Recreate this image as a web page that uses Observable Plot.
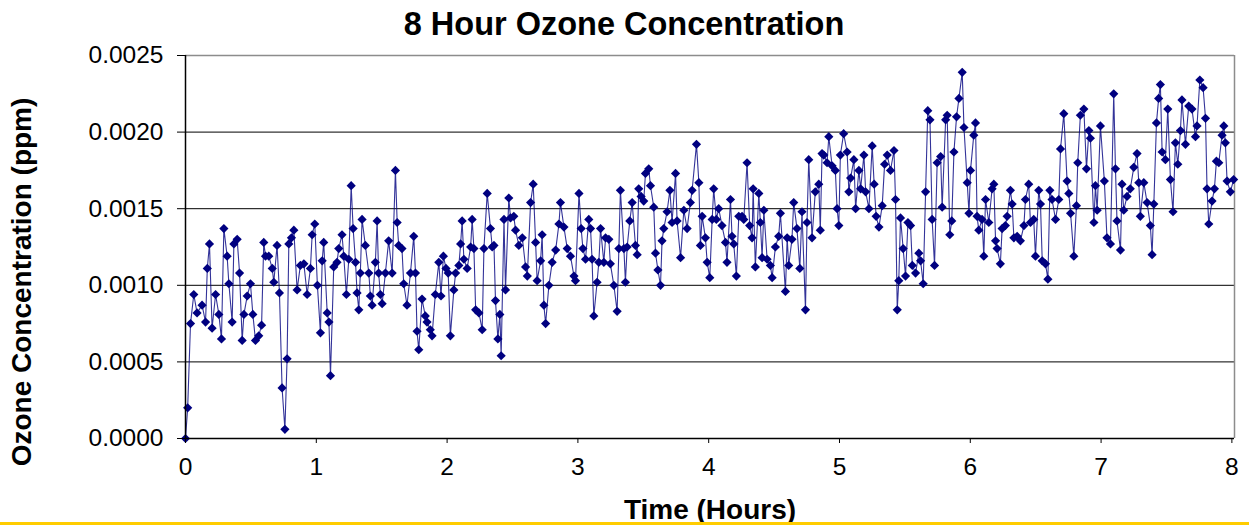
<!DOCTYPE html>
<html><head><meta charset="utf-8">
<script src="https://cdn.jsdelivr.net/npm/d3@7"></script>
<script src="https://cdn.jsdelivr.net/npm/@observablehq/plot@0.6"></script>
<style>
html,body{margin:0;padding:0;background:#fff;overflow:hidden;}
#wrap{position:relative;width:1249px;height:527px;}
#bar{position:absolute;left:0;top:522px;width:1249px;height:3px;background:#FFCC00;}
</style></head><body><div id="wrap"></div>
<script>
const titleText = "8 Hour Ozone Concentration";
const xTitle = "Time (Hours)";
const yTitle = "Ozone Concentration (ppm)";
const xTicks = [0, 1, 2, 3, 4, 5, 6, 7, 8];
const yTicks = [0, 0.0005, 0.0010, 0.0015, 0.0020, 0.0025];
const gridValues = [0.0005, 0.0010, 0.0015, 0.0020];

// elapsed time of each reading, in minutes
const timeMinutes = [
0,1,2.3,3.8,5.3,7.6,9.2,10.0,11.0,12.2,13.8,15.3,16.5,17.6,19.1,19.9,21.4,22.2,23.7,24.8,26.0,26.8,28.3,29.8,30.9,32.1,33.6,34.9,35.9,36.7,38.2,39.8,40.5,42.0,43.1,44.3,45.6,46.6,47.4,48.6,49.7,51.2,52.7,54.3,55.8,57.3,58.1,59.3,
60.5,61.9,62.7,63.4,65.0,65.8,66.5,68.0,69.5,70.3,71.8,72.6,73.8,74.9,76.0,76.9,78.0,78.7,79.5,80.2,81.0,82.5,84.1,84.8,85.6,87.1,87.9,88.6,89.4,90.2,91.7,93.2,94.8,96.3,97.1,97.8,99.3,100.1,101.6,103.2,104.7,105.5,106.2,107.0,108.5,110.0,110.8,112.3,113.1,114.6,116.2,117.2,118.3,119.5,
120.5,121.5,123.1,123.9,125.4,126.2,126.9,127.7,129.2,130.8,131.5,132.3,133.1,134.6,136.1,136.9,138.4,139.9,140.7,141.5,142.2,143.3,144.2,144.8,146.1,146.8,148.3,149.1,150.6,151.4,152.9,154.5,156.0,156.8,158.3,159.5,160.6,161.3,162.9,163.6,164.4,165.2,166.7,168.2,169.8,171.3,172.0,173.6,175.1,176.6,178.2,178.9,180.5,
181.5,182.3,183.5,185.0,185.8,186.5,187.3,188.8,189.6,190.4,191.9,192.7,194.2,194.9,196.5,198.0,198.8,199.5,201.1,201.8,202.6,203.8,204.9,206.4,207.2,207.9,209.0,210.2,211.0,212.5,213.3,214.8,215.6,216.7,217.9,218.6,219.4,220.9,222.2,223.2,224.8,225.5,227.1,228.6,230.1,231.6,232.4,234.4,235.5,236.2,237.0,238.5,239.3,240.5,
241.6,242.3,243.5,244.6,246.1,247.7,248.4,250.0,250.7,251.5,252.7,253.8,255.3,256.1,257.6,258.8,259.9,260.4,261.4,263.0,263.7,264.5,265.3,266.8,268.3,269.1,270.6,272.1,272.9,275.2,276.0,276.7,278.2,279.0,280.5,281.8,282.8,284.4,285.1,285.9,287.4,288.9,290.5,291.2,292.0,292.8,294.3,295.1,296.6,298.1,298.9,299.7,300.4,301.9,
303.5,304.3,305.1,306.6,307.4,308.9,309.7,311.2,312.0,313.5,315.0,315.9,316.8,318.1,319.6,320.7,321.9,323.4,325.0,325.7,326.5,327.2,328.0,329.2,330.3,331.4,332.6,333.4,334.9,336.4,337.2,338.4,339.5,340.5,341.5,342.5,343.6,344.8,346.4,347.1,348.7,349.4,350.6,351.5,352.5,353.7,354.8,356.3,357.1,358.6,359.4,360.1,361.6,362.4,
363.1,363.9,365.4,366.2,367.0,368.5,370.0,370.8,371.6,372.3,373.8,374.6,376.1,376.9,378.4,379.2,380.0,381.5,383.0,384.6,385.3,386.8,387.6,389.1,389.9,391.4,392.2,393.0,394.5,395.6,396.5,397.5,399.1,400.6,401.4,402.9,404.4,405.2,406.0,407.5,408.7,409.3,410.5,412.1,413.3,414.4,415.1,416.7,417.4,418.2,419.7,
421.5,422.7,424.3,425.8,426.6,427.3,428.9,429.6,430.4,431.9,433.4,435.0,436.5,437.3,438.0,439.6,441.1,442.6,443.4,444.2,445.4,446.4,447.2,448.0,449.5,450.6,451.8,453.0,454.1,455.2,456.4,457.1,458.7,460.2,461.7,463.3,464.0,465.3,466.8,467.9,468.6,469.4,470.9,472.0,472.9,474.0,475.5,476.3,477.0,477.8,479.3,480.8
];

// ozone concentration of each reading, ppm
const ozonePpm = [
0.00000,0.00020,0.00075,0.00094,0.00082,0.00087,0.00076,0.00111,0.00127,0.00072,0.00094,0.00081,0.00065,0.00137,0.00119,0.00101,0.00076,0.00127,0.00130,0.00108,0.00064,0.00081,0.00093,0.00101,0.00081,0.00064,0.00067,0.00074,0.00128,0.00119,0.00119,0.00111,0.00102,0.00126,0.00095,0.00033,0.00006,0.00052,0.00127,0.00131,0.00136,0.00097,0.00113,0.00114,0.00094,0.00111,0.00133,0.00140,
0.00100,0.00069,0.00116,0.00128,0.00082,0.00076,0.00041,0.00112,0.00115,0.00124,0.00133,0.00119,0.00094,0.00117,0.00165,0.00137,0.00115,0.00095,0.00084,0.00108,0.00143,0.00126,0.00108,0.00093,0.00087,0.00115,0.00142,0.00108,0.00094,0.00088,0.00108,0.00129,0.00108,0.00175,0.00141,0.00126,0.00124,0.00101,0.00087,0.00108,0.00132,0.00108,0.00070,0.00058,0.00091,0.00080,0.00076,0.00071,0.00067,0.00094,0.00115,0.00093,0.00119,0.00111,
0.00108,0.00067,0.00097,0.00108,0.00113,0.00127,0.00142,0.00117,0.00111,0.00125,0.00143,0.00124,0.00084,0.00082,0.00071,0.00124,0.00160,0.00137,0.00125,0.00126,0.00090,0.00065,0.00081,0.00054,0.00143,0.00097,0.00157,0.00144,0.00145,0.00136,0.00126,0.00131,0.00112,0.00106,0.00154,0.00166,0.00128,0.00103,0.00116,0.00133,0.00087,0.00075,0.00100,0.00115,0.00123,0.00140,0.00154,0.00138,0.00124,0.00119,0.00106,0.00103,0.00160,
0.00137,0.00124,0.00117,0.00143,0.00137,0.00117,0.00080,0.00102,0.00115,0.00137,0.00115,0.00131,0.00130,0.00114,0.00100,0.00083,0.00124,0.00162,0.00124,0.00102,0.00125,0.00142,0.00154,0.00126,0.00120,0.00163,0.00158,0.00155,0.00173,0.00176,0.00165,0.00151,0.00121,0.00110,0.00100,0.00129,0.00137,0.00148,0.00162,0.00141,0.00173,0.00142,0.00118,0.00149,0.00137,0.00154,0.00162,0.00192,0.00167,0.00126,0.00145,0.00131,0.00115,0.00105,
0.00143,0.00163,0.00143,0.00150,0.00139,0.00128,0.00115,0.00156,0.00132,0.00127,0.00106,0.00145,0.00145,0.00143,0.00180,0.00139,0.00131,0.00163,0.00112,0.00160,0.00141,0.00118,0.00149,0.00117,0.00113,0.00105,0.00125,0.00132,0.00147,0.00096,0.00131,0.00113,0.00130,0.00154,0.00137,0.00111,0.00148,0.00084,0.00141,0.00182,0.00131,0.00161,0.00166,0.00136,0.00186,0.00185,0.00180,0.00197,0.00178,0.00175,0.00150,0.00139,0.00185,0.00199,
0.00187,0.00161,0.00170,0.00182,0.00150,0.00175,0.00163,0.00185,0.00161,0.00150,0.00191,0.00166,0.00145,0.00138,0.00152,0.00179,0.00185,0.00175,0.00188,0.00156,0.00084,0.00103,0.00144,0.00124,0.00106,0.00141,0.00139,0.00113,0.00108,0.00121,0.00116,0.00101,0.00161,0.00214,0.00208,0.00143,0.00113,0.00180,0.00184,0.00151,0.00208,0.00211,0.00133,0.00142,0.00187,0.00210,0.00222,0.00239,0.00203,0.00167,0.00147,0.00175,0.00198,0.00206,
0.00145,0.00136,0.00143,0.00119,0.00156,0.00141,0.00163,0.00166,0.00129,0.00124,0.00114,0.00137,0.00139,0.00145,0.00162,0.00153,0.00131,0.00132,0.00129,0.00139,0.00156,0.00166,0.00141,0.00143,0.00119,0.00162,0.00153,0.00116,0.00114,0.00104,0.00162,0.00156,0.00143,0.00156,0.00189,0.00212,0.00168,0.00160,0.00147,0.00119,0.00152,0.00180,0.00211,0.00215,0.00176,0.00201,0.00196,0.00141,0.00165,0.00149,0.00204,
0.00168,0.00131,0.00127,0.00225,0.00176,0.00142,0.00123,0.00166,0.00149,0.00158,0.00163,0.00177,0.00186,0.00167,0.00145,0.00167,0.00154,0.00139,0.00120,0.00153,0.00206,0.00222,0.00231,0.00187,0.00182,0.00215,0.00169,0.00148,0.00193,0.00179,0.00201,0.00221,0.00192,0.00217,0.00215,0.00197,0.00204,0.00234,0.00229,0.00209,0.00163,0.00140,0.00155,0.00163,0.00181,0.00180,0.00198,0.00204,0.00193,0.00168,0.00161,0.00169
];

const data = timeMinutes.map((m, i) => ({hours: m / 60, ppm: ozonePpm[i]}));

const diamond = {
  draw(ctx, size) {
    const r = Math.sqrt(size / Math.PI);
    ctx.moveTo(0, -r); ctx.lineTo(r, 0); ctx.lineTo(0, r); ctx.lineTo(-r, 0); ctx.closePath();
  }
};

const font = "'Liberation Sans', Arial, sans-serif";
const chart = Plot.plot({
  width: 1249, height: 527,
  marginTop: 55, marginBottom: 89, marginLeft: 185, marginRight: 15,
  style: {fontFamily: font, background: "white", color: "black"},
  x: {domain: [0, 8.02]},
  y: {domain: [0, 0.0025]},
  marks: [
    Plot.ruleY(gridValues, {stroke: "black", strokeWidth: 1}),
    Plot.ruleY([0.0025], {stroke: "#8c8c8c", strokeWidth: 1.5}),
    Plot.ruleX([8.02], {stroke: "#8c8c8c", strokeWidth: 1.5}),
    Plot.line(data, {x: "hours", y: "ppm", stroke: "#000080", strokeWidth: 1.1, strokeOpacity: 0.8}),
    Plot.dot(data, {x: "hours", y: "ppm", symbol: diamond, r: 4.6, fill: "#000080"}),
    Plot.axisY({ticks: yTicks, tickFormat: d3.format(".4f"), tickSize: 8, tickPadding: 14, fontSize: 24.5, label: null}),
    Plot.axisX({ticks: xTicks, tickSize: 5, tickPadding: 14, fontSize: 24.5, label: null}),
    Plot.ruleX([0], {stroke: "black", strokeWidth: 1.5}),
    Plot.ruleY([0], {stroke: "black", strokeWidth: 1.5}),
    Plot.text([titleText], {text: d => d, frameAnchor: "top", dx: -86, dy: -21, lineAnchor: "bottom", fontSize: 32.5, fontWeight: "bold"}),
    Plot.text([xTitle], {text: d => d, frameAnchor: "bottom", dy: 80, lineAnchor: "bottom", fontSize: 28, fontWeight: "bold"}),
    Plot.text([yTitle], {text: d => d, frameAnchor: "left", textAnchor: "middle", dx: -163, dy: 35, rotate: -90, fontSize: 28, fontWeight: "bold"})
  ]
});
const wrap = document.getElementById("wrap");
wrap.appendChild(chart);
const bar = document.createElement("div");
bar.id = "bar";
wrap.appendChild(bar);
</script></body></html>
